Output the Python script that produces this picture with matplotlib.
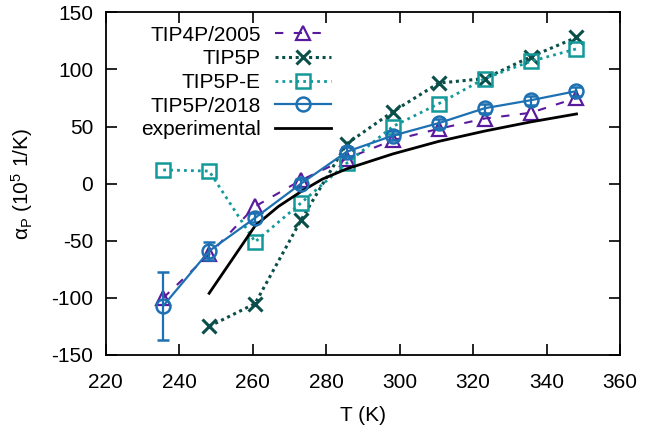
import numpy as np
import matplotlib
matplotlib.use("Agg")
from matplotlib import pyplot as plt

plt.rcParams['font.family'] = ['Liberation Sans', 'DejaVu Sans']
plt.rcParams['mathtext.fontset'] = 'custom'
plt.rcParams['mathtext.rm'] = 'Liberation Sans'
plt.rcParams['mathtext.it'] = 'Liberation Sans'
plt.rcParams['axes.unicode_minus'] = False

T = [235.65, 248.15, 260.65, 273.15, 285.65, 298.15, 310.65, 323.15, 335.65, 348.15]

tip4p2005 = [-100, -62, -20, 3, 22, 38, 48, 57, 62, 75]
tip5p_T = T[1:]
tip5p = [-125, -105, -32, 35, 63, 88, 92, 111, 128]
tip5pe = [12, 11, -51, -17, 18, 50, 70, 92, 107, 118]
tip5p2018 = [-107, -59, -30, 0, 28, 42, 53, 66, 73, 81]
tip5p2018_err = [30, 8, 4, 4, 4, 4, 4, 4, 4, 4]

exp_T = [248.15, 260.65, 267.0, 273.15, 279.0, 285.65, 298.15, 310.65, 323.15, 335.65, 348.15]
exp_val = [-96, -37, -20, -7, 4, 13, 26, 37, 46, 54, 61]

c4 = '#5a1a9e'
c5 = '#0b4f4a'
c5e = '#14999a'
c18 = '#1d70b2'

fig = plt.figure(figsize=(6.55, 4.28), dpi=100)
ax = fig.add_axes([0.1614, 0.1706, 0.7852, 0.8007])

h1, = ax.plot(T, tip4p2005, color=c4, ls=(0, (4, 5)), lw=1.5, marker='^', ms=10,
              mfc='none', mec=c4, mew=1.6, label='TIP4P/2005')
h2, = ax.plot(tip5p_T, tip5p, color=c5, ls=(0, (1, 1.2)), lw=2.2, marker='x', ms=10,
              mec=c5, mew=2.2, label='TIP5P')
h3, = ax.plot(T, tip5pe, color=c5e, ls=(0, (1, 1.5)), lw=2.0, marker='s', ms=10,
              mfc='none', mec=c5e, mew=1.8, label='TIP5P-E')
eb = ax.errorbar(T, tip5p2018, yerr=tip5p2018_err, color=c18, lw=1.6, marker='o', ms=10,
                 mfc='none', mec=c18, mew=1.8, capsize=4, capthick=1.6, elinewidth=1.6,
                 label='TIP5P/2018')
h5, = ax.plot(exp_T, exp_val, color='black', lw=2.0, label='experimental')

ax.set_xlim(220, 360)
ax.set_ylim(-150, 150)
ax.set_xticks(np.arange(220, 361, 20))
ax.set_yticks(np.arange(-150, 151, 50))
ax.tick_params(direction='in', length=8, width=1.2, top=True, right=True,
               labelsize=15)
ax.tick_params(axis='x', pad=13)
ax.tick_params(axis='y', pad=9)
for s in ax.spines.values():
    s.set_linewidth(1.3)

ax.set_xlabel('T (K)', fontsize=15, labelpad=10)
ax.set_ylabel(r'α$_\mathrm{P}$ (10$^{5}$ 1/K)', fontsize=15, labelpad=12)

leg = ax.legend([h1, h2, h3, eb[0], h5],
                ['TIP4P/2005', 'TIP5P', 'TIP5P-E', 'TIP5P/2018', 'experimental'],
                loc='upper right', bbox_to_anchor=(0.455, 0.985), frameon=False,
                markerfirst=False, fontsize=15, handlelength=2.7,
                labelspacing=0.22, handletextpad=0.7, borderaxespad=0.0)
leg._legend_handle_box.get_children()[0].align = 'right'

plt.savefig('out.png', dpi=100)
